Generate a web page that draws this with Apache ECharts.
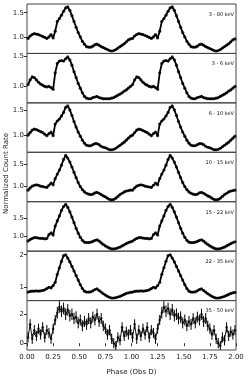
<!DOCTYPE html>
<html><head><meta charset="utf-8">
<script src="https://cdn.jsdelivr.net/npm/echarts@6/dist/echarts.min.js"></script>
<style>html,body{margin:0;padding:0;background:#fff}#c{width:248px;height:380px}</style>
</head><body><div id="c"></div>
<script>
// phase bin centres of one cycle (folded data, plotted twice: 0-1 and 1-2)
const phaseBins = [0.01,0.03,0.05,0.07,0.09,0.11,0.13,0.15,0.17,0.19,0.21,0.23,0.25,0.27,0.29,0.31,0.33,0.35,0.37,0.39,0.41,0.43,0.45,0.47,0.49,0.51,0.53,0.55,0.57,0.59,0.61,0.63,0.65,0.67,0.69,0.71,0.73,0.75,0.77,0.79,0.81,0.83,0.85,0.87,0.89,0.91,0.93,0.95,0.97,0.99];
const cycles = [0, 1];
const bandLabels = ["3 - 80 keV","3 - 6 keV","6 - 10 keV","10 - 15 keV","15 - 22 keV","22 - 35 keV","35 - 50 keV"];

const rate_3_80 = [0.97,1.02,1.05,1.07,1.06,1.05,1.03,1.01,0.99,0.97,1.00,1.05,0.98,1.12,1.32,1.38,1.45,1.53,1.60,1.62,1.55,1.44,1.32,1.20,1.09,1.00,0.91,0.85,0.80,0.79,0.79,0.81,0.84,0.85,0.83,0.80,0.78,0.76,0.74,0.72,0.71,0.72,0.74,0.77,0.80,0.83,0.86,0.90,0.94,0.96];
const rate_3_6 = [1.02,1.10,1.15,1.14,1.10,1.06,1.03,1.01,0.99,0.98,0.99,0.97,0.94,1.22,1.38,1.42,1.43,1.42,1.46,1.49,1.44,1.35,1.24,1.14,1.04,0.96,0.88,0.82,0.79,0.78,0.78,0.80,0.81,0.82,0.80,0.79,0.78,0.78,0.78,0.78,0.79,0.80,0.82,0.84,0.86,0.88,0.91,0.93,0.96,0.99];
const rate_6_10 = [1.00,1.05,1.10,1.12,1.11,1.09,1.07,1.05,1.02,0.99,1.03,1.06,0.99,1.22,1.28,1.32,1.38,1.45,1.55,1.58,1.50,1.39,1.27,1.16,1.06,0.98,0.90,0.84,0.80,0.79,0.79,0.81,0.83,0.83,0.81,0.78,0.76,0.75,0.73,0.71,0.71,0.72,0.74,0.77,0.80,0.83,0.86,0.90,0.94,0.98];
const rate_10_15 = [0.92,0.97,1.01,1.03,1.04,1.03,1.01,1.00,0.99,0.98,1.03,1.08,1.04,1.18,1.28,1.37,1.48,1.61,1.70,1.64,1.55,1.44,1.32,1.20,1.09,1.00,0.93,0.88,0.85,0.83,0.82,0.83,0.86,0.87,0.85,0.82,0.79,0.77,0.74,0.71,0.70,0.71,0.74,0.78,0.82,0.85,0.88,0.90,0.91,0.92];
const rate_15_22 = [0.88,0.92,0.95,0.97,0.97,0.96,0.95,0.95,0.94,0.95,1.05,1.10,1.04,1.28,1.42,1.55,1.70,1.80,1.86,1.78,1.66,1.52,1.37,1.22,1.09,0.98,0.90,0.85,0.84,0.84,0.85,0.87,0.90,0.91,0.88,0.83,0.79,0.75,0.72,0.69,0.67,0.67,0.68,0.70,0.72,0.75,0.78,0.81,0.84,0.86];
const rate_22_35 = [0.85,0.87,0.88,0.88,0.89,0.88,0.89,0.90,0.92,0.96,1.00,0.98,1.05,1.15,1.40,1.60,1.80,1.97,2.00,1.90,1.78,1.64,1.50,1.36,1.22,1.08,0.96,0.88,0.85,0.85,0.86,0.89,0.93,0.95,0.90,0.85,0.80,0.76,0.72,0.69,0.67,0.67,0.68,0.70,0.72,0.75,0.78,0.81,0.83,0.84];
const rate_35_50 = [0.4,1.3,0.3,0.9,0.5,1.0,0.6,1.1,0.4,0.9,0.7,0.3,1.0,1.6,2.1,2.5,2.2,2.4,2.0,2.3,1.9,2.0,1.7,1.8,1.4,1.6,1.2,1.5,1.3,1.7,1.4,1.8,1.6,2.0,1.5,1.7,1.2,1.0,0.6,0.9,0.3,0.0,-0.2,0.4,0.2,1.1,0.5,0.8,0.6,0.9];
const err_35_50 = [0.35,0.35,0.35,0.35,0.35,0.35,0.35,0.35,0.35,0.35,0.35,0.35,0.35,0.35,0.4,0.4,0.4,0.4,0.4,0.4,0.4,0.4,0.4,0.4,0.38,0.38,0.38,0.38,0.38,0.38,0.38,0.38,0.38,0.38,0.38,0.38,0.36,0.36,0.36,0.36,0.35,0.35,0.35,0.35,0.35,0.35,0.35,0.35,0.35,0.35];

const bandRates = [rate_3_80, rate_3_6, rate_6_10, rate_10_15, rate_15_22, rate_22_35, rate_35_50];
const yRanges = [[0.66,1.68],[0.71,1.55],[0.66,1.64],[0.66,1.77],[0.61,1.93],[0.59,2.11],[-0.47,2.94]];
const yTicks = [[1.0,1.5],[1.0,1.5],[1.0,1.5],[1.0,1.5],[1.0,1.5],[1,2],[0,2]];
const yTickDecimals = [1,1,1,1,1,0,0];

const FONT = 'DejaVu Sans';
const TOP0 = 4, PH = 49.43, LEFT = 27, RIGHT = 12;
const grids = [], xAxes = [], yAxes = [], series = [], graphics = [];

function unfold(vals) {
  const out = [];
  cycles.forEach(c => phaseBins.forEach((p, i) => out.push([p + c, vals[i]])));
  return out;
}

bandRates.forEach((vals, g) => {
  const top = TOP0 + g * PH;
  const last = g === bandRates.length - 1;
  grids.push({left: LEFT, right: RIGHT, top: top, height: PH, show: true, borderColor: '#444', borderWidth: 1, backgroundColor: 'transparent'});
  xAxes.push({type: 'value', gridIndex: g, min: 0, max: 2, interval: 0.25,
    axisLine: {show: false}, splitLine: {show: false},
    axisTick: {show: last, length: 3, lineStyle: {color: '#333'}},
    axisLabel: {show: last, fontFamily: FONT, fontSize: 7, color: '#222', margin: 4, formatter: v => v.toFixed(2)},
    name: last ? 'Phase (Obs D)' : '', nameLocation: 'middle', nameGap: 19,
    nameTextStyle: {fontFamily: FONT, fontSize: 7, color: '#222'}});
  yAxes.push({type: 'value', gridIndex: g, min: yRanges[g][0], max: yRanges[g][1],
    axisLine: {show: false}, splitLine: {show: false},
    axisTick: {show: true, length: 3, customValues: yTicks[g], lineStyle: {color: '#333'}},
    axisLabel: {show: true, customValues: yTicks[g], fontFamily: FONT, fontSize: 7, color: '#222', margin: 3,
      formatter: v => Number(v).toFixed(yTickDecimals[g])}});
  const pts = unfold(vals);
  if (last) {
    const errPts = [];
    cycles.forEach(c => phaseBins.forEach((p, i) => errPts.push([p + c, vals[i], err_35_50[i]])));
    series.push({type: 'custom', xAxisIndex: g, yAxisIndex: g, data: errPts, clip: true,
      renderItem: (params, api) => {
        const x = api.value(0), y = api.value(1), e = api.value(2);
        const a = api.coord([x, y - e]), b = api.coord([x, y + e]);
        return {type: 'line', shape: {x1: a[0], y1: a[1], x2: b[0], y2: b[1]}, style: {stroke: '#000', lineWidth: 1}};
      }, silent: true, animation: false});
    series.push({type: 'line', xAxisIndex: g, yAxisIndex: g, data: pts, showSymbol: false, symbol: 'none',
      lineStyle: {color: '#000', width: 0.9}, silent: true, animation: false});
    series.push({type: 'scatter', xAxisIndex: g, yAxisIndex: g, data: pts, symbolSize: 2.5,
      itemStyle: {color: '#000'}, silent: true, animation: false});
  } else {
    series.push({type: 'line', xAxisIndex: g, yAxisIndex: g, data: pts, showSymbol: false, symbol: 'none',
      lineStyle: {color: '#000', width: 1.8}, silent: true, animation: false});
    series.push({type: 'scatter', xAxisIndex: g, yAxisIndex: g, data: pts, symbolSize: 3.2,
      itemStyle: {color: '#000'}, silent: true, animation: false});
  }
  graphics.push({type: 'text', right: 248 - 234, top: top + 8, z: 100,
    style: {text: bandLabels[g], fontFamily: FONT, fontSize: 5, fill: '#111', align: 'right'}});
});

graphics.push({type: 'text', x: 3, y: 177 + 37, rotation: Math.PI / 2, z: 100,
  style: {text: 'Normalized Count Rate', fontFamily: FONT, fontSize: 7, fill: '#222'}});

const chart = echarts.init(document.getElementById('c'), null, {renderer: 'canvas'});
chart.setOption({animation: false, grid: grids, xAxis: xAxes, yAxis: yAxes, series: series, graphic: graphics});
</script></body></html>
